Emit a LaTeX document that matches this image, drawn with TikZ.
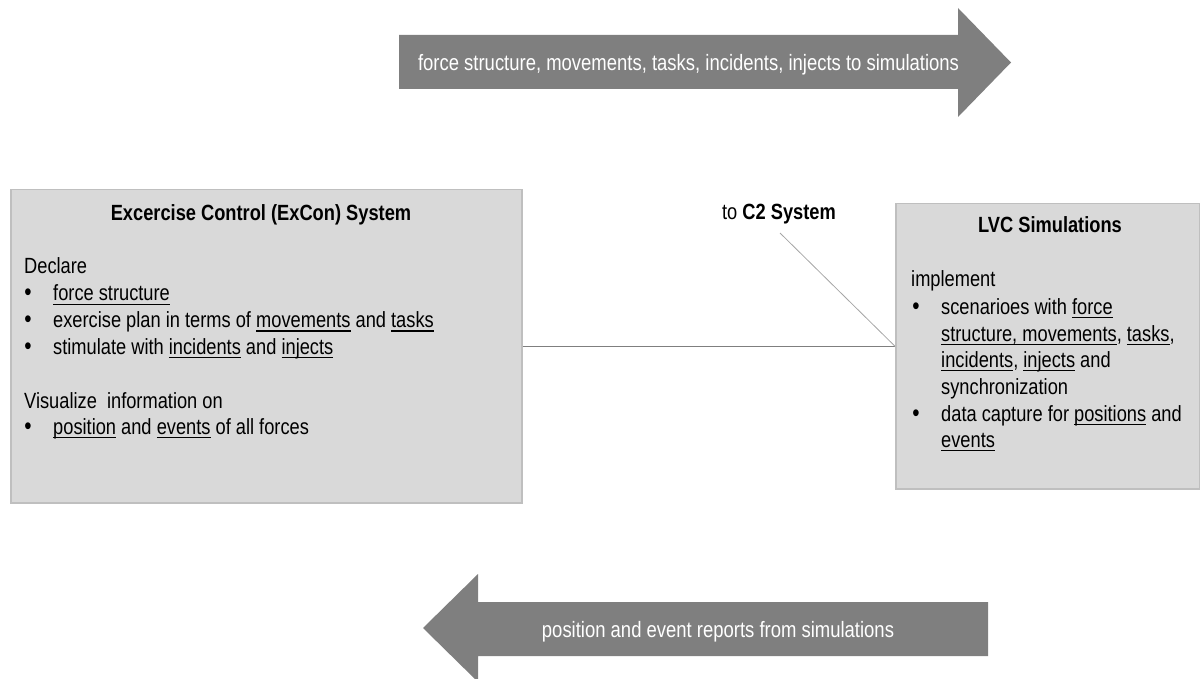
\documentclass[tikz,border=0pt]{standalone}
\usepackage{fontspec}
\setmainfont[FakeStretch=0.83]{Liberation Sans}
\definecolor{boxfill}{HTML}{D9D9D9}
\definecolor{boxline}{HTML}{BFBFBF}
\definecolor{arrowgray}{HTML}{7F7F7F}
\definecolor{linkgray}{HTML}{7F7F7F}
\definecolor{diaggray}{HTML}{A6A6A6}
\newcommand\myul[1]{\setbox0\hbox{#1}\rlap{\rule[-4pt]{\wd0}{1.4pt}}\box0\relax}
\tikzset{
  panel/.style={draw=boxline, line width=1.5pt, fill=boxfill, inner sep=0pt, anchor=north west},
  txt/.style={anchor=base west, inner sep=0pt, font=\fontsize{22}{26}\selectfont},
  ttl/.style={anchor=base, inner sep=0pt, font=\fontsize{22}{26}\selectfont\bfseries},
  lbl/.style={anchor=base, inner sep=0pt, font=\fontsize{22}{26}\selectfont},
  bul/.style={anchor=base, inner sep=0pt, font=\fontsize{25}{26}\selectfont},
  blockarrow/.style={fill=arrowgray},
  arrowtxt/.style={anchor=base, inner sep=0pt, text=white, font=\fontsize{22.25}{26}\selectfont},
  link/.style={draw=linkgray, line width=1.2pt},
  diaglink/.style={draw=diaggray, line width=0.8pt},
}
\begin{document}
\begin{tikzpicture}[x=1pt,y=-1pt]
\useasboundingbox (0,0) rectangle (1200,679);

% top block arrow
\path[blockarrow] (399,35) -- (958,35) -- (958,8) -- (1011,62.5) -- (958,117) -- (958,89) -- (399,89) -- cycle;
\node[arrowtxt] (toptext) at (688.5,71) {force structure, movements, tasks, incidents, injects to simulations};

% bottom block arrow
\path[blockarrow] (423,628) -- (478,574) -- (478,602) -- (988,602) -- (988,656) -- (478,656) -- (478,682) -- cycle;
\node[arrowtxt] (bottext) at (718,637) {position and event reports from simulations};

% boxes
\node[panel, minimum width=511pt, minimum height=313pt] (exc) at (10,189) {};
\node[panel, minimum width=304pt, minimum height=285pt] (lvc) at (895,203) {};

% connectors
\node[lbl] (c2) at (779,220) {to \textbf{C2 System}};
\coordinate (c2foot) at (780,233);
\draw[link] (exc.east) -- (lvc.west);
\draw[diaglink] (c2foot) -- (lvc.west);

% left box text
\node[ttl] (exctitle) at (261,220.7) {Excercise Control (ExCon) System};
\node[txt] (declare) at (24,274) {Declare};
\node[bul] (b1) at (28,301) {•};
\node[txt] (l1) at (53,301) {\myul{force structure}};
\node[bul] (b2) at (28,327.5) {•};
\node[txt] (l2) at (53,327.5) {exercise plan in terms of \myul{movements} and \myul{tasks}};
\node[bul] (b3) at (28,354) {•};
\node[txt] (l3) at (53,354) {stimulate with \myul{incidents} and \myul{injects}};
\node[txt] (visual) at (24,408) {Visualize\ \ information on};
\node[bul] (b4) at (28,434) {•};
\node[txt] (l4) at (53,434) {\myul{position} and \myul{events} of all forces};

% right box text
\node[ttl] (lvctitle) at (1050,233) {LVC Simulations};
\node[txt] (impl) at (911,287) {implement};
\node[bul] (r1) at (916,314) {•};
\node[txt] (m1) at (941,314) {scenarioes with \myul{force}};
\node[txt] (m2) at (941,341) {\myul{structure,\ }\myul{movements}, \myul{tasks},};
\node[txt] (m3) at (941,367) {\myul{incidents}, \myul{injects} and};
\node[txt] (m4) at (941,394) {synchronization};
\node[bul] (r2) at (916,421) {•};
\node[txt] (m5) at (941,421) {data capture for \myul{positions} and};
\node[txt] (m6) at (941,447) {\myul{events}};
\end{tikzpicture}
\end{document}
